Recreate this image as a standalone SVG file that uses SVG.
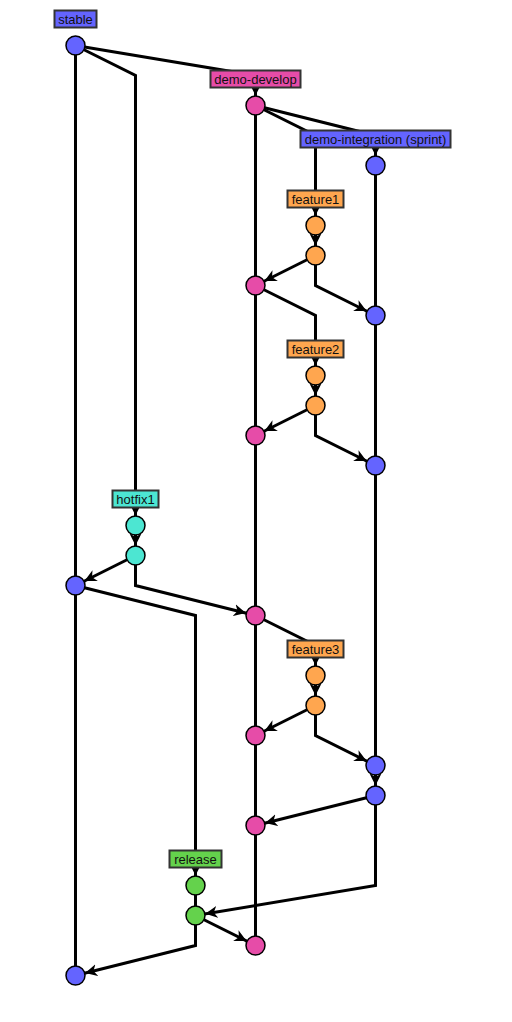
<svg xmlns="http://www.w3.org/2000/svg" width="512" height="1022" viewBox="0 0 512 1022">
<style>
.e{fill:none;stroke:#000;stroke-width:3;stroke-linejoin:miter}
.a{marker-end:url(#arr)}
.c{stroke:#000;stroke-width:1.5}
.lb{stroke:#333;stroke-width:2}
.t{font-family:"Liberation Sans",Arial,sans-serif;font-size:13px;fill:#111;text-anchor:middle;dominant-baseline:central}
.blue{fill:#6464ff}.pink{fill:#e64ca8}.orange{fill:#ffa64f}.teal{fill:#4ce6d2}.green{fill:#64d24c}
</style>
<defs>
<marker id="arr" markerUnits="userSpaceOnUse" markerWidth="32" markerHeight="14" viewBox="0 0 32 14" refX="22" refY="7" orient="auto"><path d="M0,1 L12,7 L0,13 L3.5,7 z" fill="#000"/></marker>
</defs>
<g transform="translate(0.5,0.5)">
<g id="connectors">
<path class="e" d="M75,45 V975"/>
<path class="e a" d="M75,45 L135,75 V525"/>
<path class="e a" d="M75,45 L255,75 V105"/>
<path class="e" d="M255,105 V945"/>
<path class="e a" d="M255,105 L375,135 V165"/>
<path class="e a" d="M255,105 L315,135 V225"/>
<path class="e" d="M375,165 V765"/>
<path class="e a" d="M375,765 V795"/>
<path class="e a" d="M315,225 V255"/>
<path class="e a" d="M315,255 L255,285"/>
<path class="e a" d="M315,255 V285 L375,315"/>
<path class="e a" d="M255,285 L315,315 V375"/>
<path class="e a" d="M315,375 V405"/>
<path class="e a" d="M315,405 L255,435"/>
<path class="e a" d="M315,405 V435 L375,465"/>
<path class="e a" d="M135,525 V555"/>
<path class="e a" d="M135,555 L75,585"/>
<path class="e a" d="M135,555 V585 L255,615"/>
<path class="e a" d="M75,585 L195,615 V885"/>
<path class="e a" d="M255,615 L315,645 V675"/>
<path class="e a" d="M315,675 V705"/>
<path class="e a" d="M315,705 L255,735"/>
<path class="e a" d="M315,705 V735 L375,765"/>
<path class="e a" d="M375,795 L255,825"/>
<path class="e a" d="M375,795 V885 L195,915"/>
<path class="e" d="M195,885 V915"/>
<path class="e a" d="M195,915 L255,945"/>
<path class="e a" d="M195,915 V945 L75,975"/>
</g>
<g id="stable-1"><circle class="c blue" cx="75" cy="45" r="9.5"/></g>
<g id="stable-2"><circle class="c blue" cx="75" cy="585" r="9.5"/></g>
<g id="stable-3"><circle class="c blue" cx="75" cy="975" r="9.5"/></g>
<g id="develop-1"><circle class="c pink" cx="255" cy="105" r="9.5"/></g>
<g id="develop-2"><circle class="c pink" cx="255" cy="285" r="9.5"/></g>
<g id="develop-3"><circle class="c pink" cx="255" cy="435" r="9.5"/></g>
<g id="develop-4"><circle class="c pink" cx="255" cy="615" r="9.5"/></g>
<g id="develop-5"><circle class="c pink" cx="255" cy="735" r="9.5"/></g>
<g id="develop-6"><circle class="c pink" cx="255" cy="825" r="9.5"/></g>
<g id="develop-7"><circle class="c pink" cx="255" cy="945" r="9.5"/></g>
<g id="integration-1"><circle class="c blue" cx="375" cy="165" r="9.5"/></g>
<g id="integration-2"><circle class="c blue" cx="375" cy="315" r="9.5"/></g>
<g id="integration-3"><circle class="c blue" cx="375" cy="465" r="9.5"/></g>
<g id="integration-4"><circle class="c blue" cx="375" cy="765" r="9.5"/></g>
<g id="integration-5"><circle class="c blue" cx="375" cy="795" r="9.5"/></g>
<g id="feature1-1"><circle class="c orange" cx="315" cy="225" r="9.5"/></g>
<g id="feature1-2"><circle class="c orange" cx="315" cy="255" r="9.5"/></g>
<g id="feature2-1"><circle class="c orange" cx="315" cy="375" r="9.5"/></g>
<g id="feature2-2"><circle class="c orange" cx="315" cy="405" r="9.5"/></g>
<g id="hotfix1-1"><circle class="c teal" cx="135" cy="525" r="9.5"/></g>
<g id="hotfix1-2"><circle class="c teal" cx="135" cy="555" r="9.5"/></g>
<g id="feature3-1"><circle class="c orange" cx="315" cy="675" r="9.5"/></g>
<g id="feature3-2"><circle class="c orange" cx="315" cy="705" r="9.5"/></g>
<g id="release-1"><circle class="c green" cx="195" cy="885" r="9.5"/></g>
<g id="release-2"><circle class="c green" cx="195" cy="915" r="9.5"/></g>
<g id="label-stable"><rect class="lb blue" x="54" y="10" width="42" height="17"/><text class="t" x="75" y="18.5">stable</text></g>
<g id="label-demo-develop"><rect class="lb pink" x="210" y="70" width="90" height="17"/><text class="t" x="255" y="78.5">demo-develop</text></g>
<g id="label-demo-integration"><rect class="lb blue" x="300" y="130" width="150" height="17"/><text class="t" x="375" y="138.5">demo-integration (sprint)</text></g>
<g id="label-feature1"><rect class="lb orange" x="287" y="190" width="56" height="17"/><text class="t" x="315" y="198.5">feature1</text></g>
<g id="label-feature2"><rect class="lb orange" x="287" y="340" width="56" height="17"/><text class="t" x="315" y="348.5">feature2</text></g>
<g id="label-hotfix1"><rect class="lb teal" x="112" y="490" width="46" height="17"/><text class="t" x="135" y="498.5">hotfix1</text></g>
<g id="label-feature3"><rect class="lb orange" x="287" y="640" width="56" height="17"/><text class="t" x="315" y="648.5">feature3</text></g>
<g id="label-release"><rect class="lb green" x="169" y="850" width="52" height="17"/><text class="t" x="195" y="858.5">release</text></g>
</g>
</svg>
